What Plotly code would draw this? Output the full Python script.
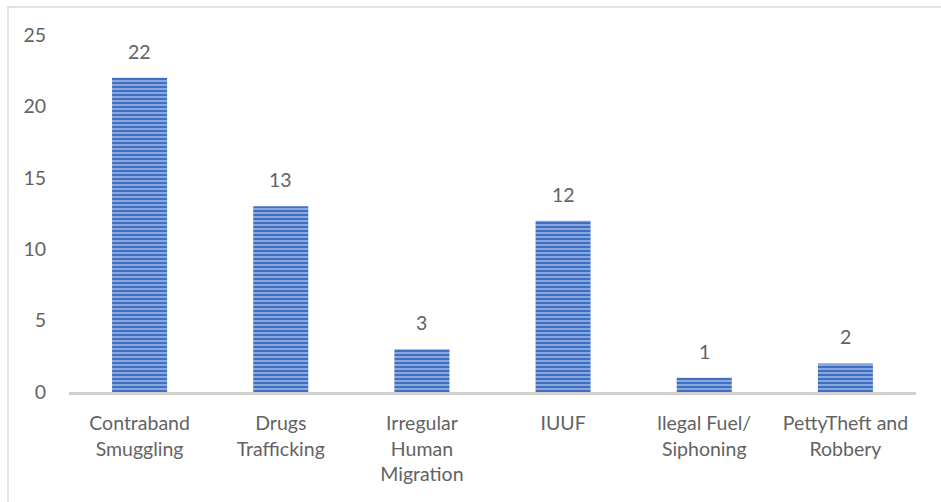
import plotly.graph_objects as go

categories = [
    "Contraband<br>Smuggling",
    "Drugs<br>Trafficking",
    "Irregular<br>Human<br>Migration",
    "IUUF",
    "llegal Fuel/<br>Siphoning",
    "PettyTheft and<br>Robbery",
]
counts = [22, 13, 3, 12, 1, 2]
y_ticks = [0, 5, 10, 15, 20, 25]

FONT = "Lato"
SIZE = 19.5
TEXT_GREY = "#636363"
BAR_BLUE = "#4070c6"
STRIPE_GAP = "#dce4f5"

fig = go.Figure()
fig.add_trace(go.Bar(
    x=categories,
    y=counts,
    width=0.39,
    marker=dict(
        color=BAR_BLUE,
        line=dict(width=0),
        # pale gaps drawn over a solid blue bar
        pattern=dict(shape="-", size=4, solidity=0.48,
                     fgcolor=STRIPE_GAP, fillmode="overlay"),
    ),
    hoverinfo="skip",
))

# value labels above each bar
for cat, v in zip(categories, counts):
    fig.add_annotation(x=cat, y=v, text=str(v), showarrow=False,
                       yanchor="bottom", yshift=13,
                       font=dict(family=FONT, size=SIZE, color=TEXT_GREY))

# chart frame
fig.add_shape(type="rect", xref="paper", yref="paper",
              x0=-61 / 847, x1=1.2, y0=-0.5, y1=1 + 28 / 357,
              line=dict(color="#d9d9d9", width=1.5), layer="below")

fig.update_layout(
    width=941, height=502,
    margin=dict(l=69, r=25, t=35, b=110),
    paper_bgcolor="white",
    plot_bgcolor="white",
    showlegend=False,
    bargap=0.61,
    font=dict(family=FONT, size=SIZE, color=TEXT_GREY),
    xaxis=dict(
        showgrid=False, zeroline=False,
        showline=True, linecolor="#d0d0d0", linewidth=3,
        ticks="", tickfont=dict(family=FONT, size=SIZE, color=TEXT_GREY),
        ticklabelstandoff=12,
    ),
    yaxis=dict(
        range=[0, 25], tickvals=y_ticks,
        showgrid=False, zeroline=False, showline=False,
        ticks="", ticklabelstandoff=22,
        tickfont=dict(family=FONT, size=SIZE, color=TEXT_GREY),
    ),
)

fig.write_html("out.html")
